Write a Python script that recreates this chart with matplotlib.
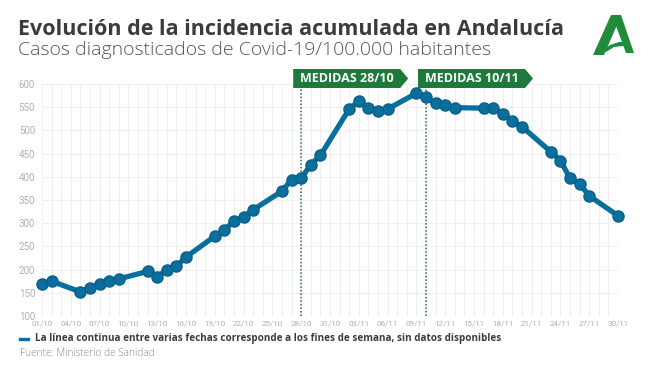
import matplotlib
matplotlib.use("Agg")
import matplotlib.pyplot as plt
import matplotlib.dates as mdates
from matplotlib.patches import Polygon
from matplotlib.transforms import IdentityTransform
import datetime as dt

# ---------------- data ----------------
dates = ["01/10", "02/10", "05/10", "06/10", "07/10", "08/10", "09/10",
         "12/10", "13/10", "14/10", "15/10", "16/10",
         "19/10", "20/10", "21/10", "22/10", "23/10",
         "26/10", "27/10", "28/10", "29/10", "30/10",
         "02/11", "03/11", "04/11", "05/11", "06/11",
         "09/11", "10/11", "11/11", "12/11", "13/11",
         "16/11", "17/11", "18/11", "19/11", "20/11",
         "23/11", "24/11", "25/11", "26/11", "27/11",
         "30/11"]
values = [170, 175, 152, 160, 168, 175, 180,
          196, 185, 199, 207, 227,
          272, 286, 304, 313, 329,
          369, 394, 397, 426, 446,
          546, 563, 549, 541, 546,
          580, 571, 558, 555, 549,
          548, 549, 536, 520, 508,
          454, 435, 397, 385, 359,
          316]
y_ticks = [100, 150, 200, 250, 300, 350, 400, 450, 500, 550, 600]
measure_dates = ["28/10", "10/11"]
measure_labels = ["MEDIDAS 28/10", "MEDIDAS 10/11"]
start_date, end_date = "01/10", "30/11"

title = "Evolución de la incidencia acumulada en Andalucía"
subtitle = "Casos diagnosticados de Covid-19/100.000 habitantes"
note = "La línea continua entre varias fechas corresponde a los fines de semana, sin datos disponibles"
source = "Fuente: Ministerio de Sanidad"

YEAR = 2020


def to_date(s):
    d, m = s.split("/")
    return dt.datetime(YEAR, int(m), int(d))


# ---------------- style ----------------
W, H = 650, 365
BLUE = "#0b6f9e"
GREEN = "#1d7a3a"
LOGO_GREEN = "#1f8b3b"
GRID = "#efefef"
TICK = "#b0b0b0"

fig = plt.figure(figsize=(W / 100, H / 100), dpi=100)
fig.patch.set_facecolor("white")

ax_left, ax_right, ax_top, ax_bottom = 42, 618, 84, 316
ax = fig.add_axes([ax_left / W, 1 - ax_bottom / H,
                   (ax_right - ax_left) / W, (ax_bottom - ax_top) / H])

xs = [to_date(d) for d in dates]
ax.plot(xs, values, color=BLUE, lw=3.8, marker="o", ms=8,
        mfc=BLUE, mec="#09608a", mew=1.0, clip_on=False, zorder=5,
        solid_joinstyle="round")

x0, x1 = to_date(start_date), to_date(end_date)
ax.set_xlim(x0, x1)
ax.set_ylim(y_ticks[0], y_ticks[-1])

ax.set_yticks(y_ticks)
ax.set_yticklabels([str(v) for v in y_ticks])
xt = []
d = x0
while d <= x1:
    xt.append(d)
    d += dt.timedelta(days=3)
ax.set_xticks(xt)
ax.set_xticklabels([t.strftime("%d/%m") for t in xt])
ax.xaxis.set_minor_locator(mdates.DayLocator())

ax.grid(True, which="both", axis="x", color=GRID, lw=0.8, zorder=0)
ax.grid(True, which="major", axis="y", color=GRID, lw=0.8, zorder=0)
ax.tick_params(axis="both", which="both", length=0)
ax.tick_params(axis="y", labelsize=7, labelcolor=TICK, pad=5)
ax.tick_params(axis="x", labelsize=5.8, labelcolor=TICK, pad=3)
for lab in ax.get_xticklabels() + ax.get_yticklabels():
    lab.set_fontfamily("Roboto")
for s in ax.spines.values():
    s.set_visible(False)

# ---------------- measure markers ----------------
ID = IdentityTransform()


def P(x, y):
    return (x, H - y)


box_top, box_bot = 69, 88
for md, ml in zip(measure_dates, measure_labels):
    xd = mdates.date2num(to_date(md))
    ax.axvline(xd, ymin=0, ymax=1 - (box_bot - ax_top) / (ax_bottom - ax_top),
               color="#2e6e4c", lw=1.1, ls=(0, (1, 1.3)), zorder=3)
    xp = ax.transData.transform((xd, 0))[0]
    left = xp - 8
    right = left + 107
    tip = right + 8
    poly = Polygon([P(left, box_top), P(right, box_top),
                    P(tip, (box_top + box_bot) / 2), P(right, box_bot),
                    P(left, box_bot)], closed=True, transform=ID,
                   facecolor=GREEN, edgecolor="none", zorder=6)
    fig.patches.append(poly)
    fig.text((left + right) / 2 / W, 1 - ((box_top + box_bot) / 2 + 0.5) / H, ml,
             color="white", fontsize=9, fontweight="bold", family="Open Sans",
             ha="center", va="center", zorder=8)

# ---------------- titles ----------------
fig.text(18 / W, 1 - 35 / H, title, fontsize=15.5, fontweight="bold",
         family="Open Sans", color="#3b3b3b", ha="left", va="baseline")
fig.text(18 / W, 1 - 55 / H, subtitle, fontsize=14, fontweight="light",
         family="Open Sans", color="#555555", ha="left", va="baseline")

# ---------------- logo ----------------
logo_shapes = [
    # left leg
    [(593, 55), (604, 55), (620, 18), (611, 15)],
    # right leg
    [(612, 15), (621, 15), (634, 53), (626, 53)],
    # swoosh crossbar
    [(603, 50), (610, 45), (619, 42), (627, 42), (630, 46), (623, 46),
     (614, 47), (606, 52)],
]
for shp in logo_shapes:
    fig.patches.append(Polygon([P(x, y) for x, y in shp], closed=True,
                               transform=ID, facecolor=LOGO_GREEN,
                               edgecolor="none"))

# ---------------- footer ----------------
fig.add_artist(plt.Line2D([20 / W, 28 / W], [1 - 339 / H, 1 - 339 / H],
                          color=BLUE, lw=2.4, transform=fig.transFigure))
fig.text(35 / W, 1 - 339 / H, note, fontsize=7.1, fontweight="bold",
         family="Open Sans", color="#3b3b3b", ha="left", va="center")
fig.text(20 / W, 1 - 353 / H, source, fontsize=7.2, fontweight="light",
         family="Open Sans", color="#8a8a8a", ha="left", va="center")

fig.savefig("out.png", dpi=100, facecolor="white")
